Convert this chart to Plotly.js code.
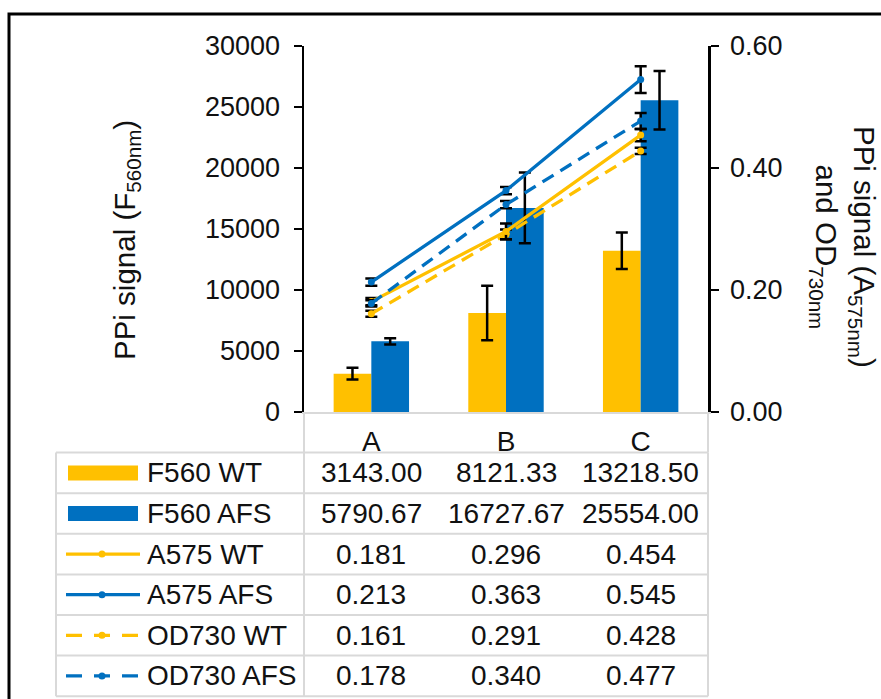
<!DOCTYPE html>
<html><head><meta charset="utf-8">
<script src="https://cdn.plot.ly/plotly-3.0.1.min.js"></script>
<style>html,body{margin:0;padding:0;background:#fff}</style>
</head><body><div id="chart" style="width:881px;height:699px"></div>
<script>
// ---------- data ----------
const categories = ['A', 'B', 'C'];
const f560WT = [3143.00, 8121.33, 13218.50];
const f560WTErr = [480, 2230, 1500];
const f560AFS = [5790.67, 16727.67, 25554.00];
const f560AFSErr = [250, 2900, 2400];
const a575WT = [0.181, 0.296, 0.454];
const a575WTErr = [0.006, 0.013, 0.010];
const a575AFS = [0.213, 0.363, 0.545];
const a575AFSErr = [0.006, 0.006, 0.022];
const od730WT = [0.161, 0.291, 0.428];
const od730WTErr = [0.005, 0.008, 0.005];
const od730AFS = [0.178, 0.340, 0.477];
const od730AFSErr = [0.005, 0.006, 0.013];
const seriesNames = ['F560 WT', 'F560 AFS', 'A575 WT', 'A575 AFS', 'OD730 WT', 'OD730 AFS'];
const leftTicks = [0, 5000, 10000, 15000, 20000, 25000, 30000];
const rightTicks = [0, 0.2, 0.4, 0.6];

// ---------- style ----------
const ORANGE = '#FFC000', BLUE = '#0070C0', GRID = '#D9D9D9', TXT = '#111111';
const FONT = 'Liberation Sans, Arial, sans-serif';
const FS = 27, FS_TABLE = 28, FS_TITLE = 29.5;
const PL = 304, PR = 708, PT = 46, PB = 412;
const PX = p => (p - PL) / (PR - PL);
const PY = p => (PB - p) / (PB - PT);
const DASH = '13px,8px';
const LW = 3.3;

const errStyle = arr => ({type: 'data', array: arr, visible: true, color: '#000', thickness: 2.5, width: 6});

const traces = [
  {type: 'bar', name: seriesNames[0], x: categories, y: f560WT, marker: {color: ORANGE}, error_y: errStyle(f560WTErr), yaxis: 'y'},
  {type: 'bar', name: seriesNames[1], x: categories, y: f560AFS, marker: {color: BLUE}, error_y: errStyle(f560AFSErr), yaxis: 'y'},
  {type: 'scatter', mode: 'lines+markers', name: seriesNames[4], x: categories, y: od730WT, yaxis: 'y2',
   line: {color: ORANGE, width: LW, dash: DASH}, marker: {color: ORANGE, size: 7}, error_y: errStyle(od730WTErr)},
  {type: 'scatter', mode: 'lines+markers', name: seriesNames[2], x: categories, y: a575WT, yaxis: 'y2',
   line: {color: ORANGE, width: LW}, marker: {color: ORANGE, size: 7}, error_y: errStyle(a575WTErr)},
  {type: 'scatter', mode: 'lines+markers', name: seriesNames[5], x: categories, y: od730AFS, yaxis: 'y2',
   line: {color: BLUE, width: LW, dash: DASH}, marker: {color: BLUE, size: 7}, error_y: errStyle(od730AFSErr)},
  {type: 'scatter', mode: 'lines+markers', name: seriesNames[3], x: categories, y: a575AFS, yaxis: 'y2',
   line: {color: BLUE, width: LW}, marker: {color: BLUE, size: 7}, error_y: errStyle(a575AFSErr)}
];

// ---------- data table ----------
const rowValues = [f560WT, f560AFS, a575WT, a575AFS, od730WT, od730AFS];
const rowDigits = [2, 2, 3, 3, 3, 3];
const rowKind = ['bar', 'bar', 'line', 'line', 'dash', 'dash'];
const rowColor = [ORANGE, BLUE, ORANGE, BLUE, ORANGE, BLUE];
const ROW_H = 40.6;
const TABLE_L = 56;
const headerTop = PB, firstRowTop = PB + ROW_H;
const shapes = [];
const annotations = [];

shapes.push({type: 'line', xref: 'paper', yref: 'paper', x0: PX(PR), x1: PX(PR), y0: PY(headerTop), y1: PY(firstRowTop), line: {color: GRID, width: 2}});
shapes.push({type: 'line', xref: 'paper', yref: 'paper', x0: PX(PL), x1: PX(PL), y0: PY(headerTop), y1: PY(firstRowTop), line: {color: GRID, width: 2}});
const nRows = rowValues.length;
const tableBottom = firstRowTop + nRows * ROW_H;
for (let r = 0; r <= nRows; r++) {
  const yy = firstRowTop + r * ROW_H;
  shapes.push({type: 'line', xref: 'paper', yref: 'paper', x0: PX(TABLE_L), x1: PX(PR), y0: PY(yy), y1: PY(yy), line: {color: GRID, width: 2}});
}
[TABLE_L, PL, PR].forEach(xx => shapes.push({type: 'line', xref: 'paper', yref: 'paper', x0: PX(xx), x1: PX(xx), y0: PY(firstRowTop), y1: PY(tableBottom), line: {color: GRID, width: 2}}));

rowValues.forEach((vals, r) => {
  const cy = firstRowTop + (r + 0.5) * ROW_H;
  vals.forEach((v, i) => annotations.push({xref: 'x', yref: 'paper', x: categories[i], y: PY(cy), text: v.toFixed(rowDigits[r]),
    showarrow: false, xanchor: 'center', yanchor: 'middle', font: {family: FONT, size: FS_TABLE, color: TXT}}));
  annotations.push({xref: 'paper', yref: 'paper', x: PX(145), y: PY(cy), text: seriesNames[r], showarrow: false,
    xanchor: 'left', yanchor: 'middle', font: {family: FONT, size: FS_TABLE, color: TXT}});
  if (rowKind[r] === 'bar') {
    shapes.push({type: 'rect', xref: 'paper', yref: 'paper', x0: PX(68), x1: PX(138), y0: PY(cy - 7.5), y1: PY(cy + 7.5), fillcolor: rowColor[r], line: {width: 0}});
  } else {
    shapes.push({type: 'line', xref: 'paper', yref: 'paper', x0: PX(66), x1: PX(140), y0: PY(cy), y1: PY(cy),
      line: {color: rowColor[r], width: LW, dash: rowKind[r] === 'dash' ? '16px,12px' : 'solid'}});
    shapes.push({type: 'circle', xref: 'paper', yref: 'paper', x0: PX(98.5), x1: PX(105.5), y0: PY(cy - 3.5), y1: PY(cy + 3.5), fillcolor: rowColor[r], line: {width: 0}});
  }
});

// axis titles
annotations.push({xref: 'paper', yref: 'paper', x: PX(127), y: PY(240), textangle: -90, showarrow: false,
  text: 'PPi signal (F<sub>560nm</sub>)', xanchor: 'center', yanchor: 'middle', font: {family: FONT, size: FS_TITLE, color: TXT}});
annotations.push({xref: 'paper', yref: 'paper', x: PX(843), y: PY(247), textangle: 90, showarrow: false,
  text: 'PPi signal (A<sub>575nm</sub>)<br>and OD<sub>730nm</sub>', xanchor: 'center', yanchor: 'middle', font: {family: FONT, size: FS_TITLE, color: TXT}});

// outer frame
shapes.push({type: 'rect', xref: 'paper', yref: 'paper', x0: PX(9), x1: PX(900), y0: PY(14), y1: PY(730), line: {color: '#000', width: 3}, fillcolor: 'rgba(0,0,0,0)'});

const axisCommon = {showgrid: false, zeroline: false, showline: true, linecolor: '#000', linewidth: 2.5,
  ticks: 'outside', ticklen: 8, tickwidth: 2.5, tickcolor: '#000', tickfont: {family: FONT, size: FS, color: TXT}, fixedrange: true};

const layout = {
  width: 881, height: 699,
  margin: {l: PL, r: 881 - PR, t: PT, b: 699 - PB, pad: 0},
  paper_bgcolor: '#fff', plot_bgcolor: '#fff',
  font: {family: FONT, size: FS, color: TXT},
  showlegend: false,
  barmode: 'group', bargap: 0.44, bargroupgap: 0,
  xaxis: {type: 'category', range: [-0.5, 2.5], showgrid: false, zeroline: false, showline: true, linecolor: GRID, linewidth: 2,
    ticks: '', tickfont: {family: FONT, size: FS_TABLE, color: TXT}, ticklabelstandoff: 3, fixedrange: true},
  yaxis: Object.assign({}, axisCommon, {range: [0, 30000], tickvals: leftTicks, ticktext: leftTicks.map(String), ticklabelstandoff: 8}),
  yaxis2: Object.assign({}, axisCommon, {overlaying: 'y', side: 'right', range: [0, 0.6], tickvals: rightTicks, tickformat: '.2f', ticklabelstandoff: 6}),
  shapes: shapes,
  annotations: annotations
};

Plotly.newPlot('chart', traces, layout, {displayModeBar: false, staticPlot: true});
</script>
</body></html>
